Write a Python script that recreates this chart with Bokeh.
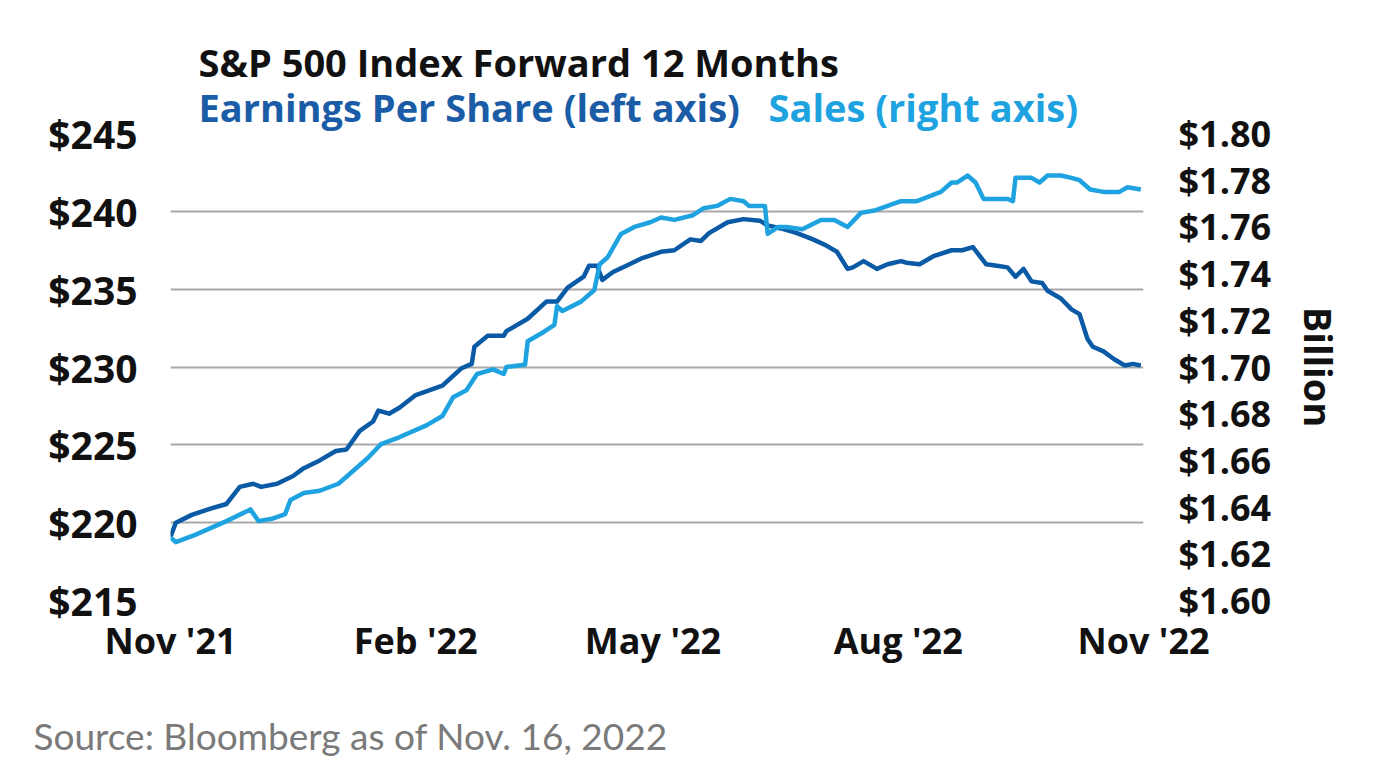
import pandas as pd
from bokeh.plotting import figure
from bokeh.models import (Range1d, LinearAxis, FixedTicker, NumeralTickFormatter,
                          DatetimeTickFormatter, Label)
from bokeh.embed import file_html
from bokeh.resources import INLINE

# ---------------- data ----------------
eps_dates = [
    "2021-11-16", "2021-11-18", "2021-11-24", "2021-12-01", "2021-12-07", "2021-12-12",
    "2021-12-17", "2021-12-20", "2021-12-26", "2022-01-01", "2022-01-05", "2022-01-11",
    "2022-01-17", "2022-01-21", "2022-01-26", "2022-01-31", "2022-02-02", "2022-02-06",
    "2022-02-10", "2022-02-16", "2022-02-26", "2022-03-05", "2022-03-09", "2022-03-10",
    "2022-03-15", "2022-03-21", "2022-03-22", "2022-03-30", "2022-04-06", "2022-04-10",
    "2022-04-14", "2022-04-20", "2022-04-22", "2022-04-25", "2022-04-27", "2022-05-01",
    "2022-05-06", "2022-05-12", "2022-05-19", "2022-05-24", "2022-05-30", "2022-06-03",
    "2022-06-06", "2022-06-13", "2022-06-19", "2022-06-25", "2022-06-28", "2022-07-03",
    "2022-07-09", "2022-07-15", "2022-07-20", "2022-07-24", "2022-07-28", "2022-07-30",
    "2022-08-03", "2022-08-08", "2022-08-12", "2022-08-17", "2022-08-19", "2022-08-24",
    "2022-08-29", "2022-09-05", "2022-09-09", "2022-09-13", "2022-09-18", "2022-09-22",
    "2022-09-26", "2022-09-29", "2022-10-02", "2022-10-05", "2022-10-09", "2022-10-11",
    "2022-10-16", "2022-10-20", "2022-10-23", "2022-10-26", "2022-10-28", "2022-11-01",
    "2022-11-05", "2022-11-09", "2022-11-12", "2022-11-15",
]
eps_values = [
    219.1, 220.0, 220.5, 220.9, 221.2, 222.3,
    222.5, 222.3, 222.5, 223.0, 223.5, 224.0,
    224.6, 224.7, 225.9, 226.5, 227.2, 227.0,
    227.4, 228.2, 228.8, 229.9, 230.2, 231.3,
    232.0, 232.0, 232.3, 233.1, 234.2, 234.2,
    235.1, 235.8, 236.5, 236.5, 235.6, 236.1,
    236.5, 237.0, 237.4, 237.5, 238.2, 238.1,
    238.6, 239.3, 239.5, 239.4, 239.1, 238.9,
    238.6, 238.2, 237.8, 237.4, 236.3, 236.4,
    236.8, 236.3, 236.6, 236.8, 236.7, 236.6,
    237.1, 237.5, 237.5, 237.7, 236.6, 236.5,
    236.4, 235.8, 236.3, 235.5, 235.4, 234.9,
    234.4, 233.7, 233.4, 231.8, 231.3, 231.0,
    230.5, 230.1, 230.2, 230.1,
]

sales_dates = [
    "2021-11-16", "2021-11-18", "2021-11-25", "2021-12-01", "2021-12-07", "2021-12-16",
    "2021-12-19", "2021-12-24", "2021-12-29", "2021-12-31", "2022-01-05", "2022-01-11",
    "2022-01-18", "2022-01-24", "2022-01-29", "2022-02-03", "2022-02-10", "2022-02-20",
    "2022-02-26", "2022-03-02", "2022-03-07", "2022-03-11", "2022-03-17", "2022-03-21",
    "2022-03-22", "2022-03-29", "2022-03-30", "2022-04-05", "2022-04-09", "2022-04-10",
    "2022-04-12", "2022-04-19", "2022-04-24", "2022-04-26", "2022-04-29", "2022-05-04",
    "2022-05-09", "2022-05-15", "2022-05-19", "2022-05-24", "2022-05-31", "2022-06-04",
    "2022-06-09", "2022-06-14", "2022-06-19", "2022-06-21", "2022-06-27", "2022-06-28",
    "2022-07-02", "2022-07-05", "2022-07-11", "2022-07-18", "2022-07-23", "2022-07-28",
    "2022-08-02", "2022-08-07", "2022-08-12", "2022-08-17", "2022-08-23", "2022-09-01",
    "2022-09-05", "2022-09-07", "2022-09-11", "2022-09-14", "2022-09-17", "2022-09-26",
    "2022-09-28", "2022-09-29", "2022-10-05", "2022-10-08", "2022-10-11", "2022-10-16",
    "2022-10-20", "2022-10-23", "2022-10-27", "2022-11-01", "2022-11-07", "2022-11-10",
    "2022-11-15",
]
sales_values = [
    1.627, 1.625, 1.628, 1.631, 1.634, 1.639,
    1.634, 1.635, 1.637, 1.643, 1.646, 1.647,
    1.650, 1.656, 1.661, 1.667, 1.670, 1.675,
    1.679, 1.687, 1.690, 1.697, 1.699, 1.697,
    1.700, 1.701, 1.711, 1.715, 1.718, 1.726,
    1.724, 1.728, 1.733, 1.744, 1.747, 1.757,
    1.760, 1.762, 1.764, 1.763, 1.765, 1.768,
    1.769, 1.772, 1.771, 1.769, 1.769, 1.757,
    1.760, 1.760, 1.759, 1.763, 1.763, 1.760,
    1.766, 1.767, 1.769, 1.771, 1.771, 1.775,
    1.779, 1.779, 1.782, 1.779, 1.772, 1.772,
    1.771, 1.781, 1.781, 1.779, 1.782, 1.782,
    1.781, 1.780, 1.776, 1.775, 1.775, 1.777,
    1.776,
]

x_tick_dates = ["2021-11-16", "2022-02-16", "2022-05-16", "2022-08-16", "2022-11-16"]
left_ticks = [215, 220, 225, 230, 235, 240, 245]
right_ticks = [1.60, 1.62, 1.64, 1.66, 1.68, 1.70, 1.72, 1.74, 1.76, 1.78, 1.80]

title_text = "S&P 500 Index Forward 12 Months"
eps_label = "Earnings Per Share (left axis)"
sales_label = "Sales (right axis)"
axis_unit = "Billion"
source_text = "Source: Bloomberg as of Nov. 16, 2022"

# ---------------- styling ----------------
DARK = "#0B5AA6"
LIGHT = "#1FA3E0"
GRID = "#a8a8a8"
FONT = "Open Sans"

eps_x = pd.to_datetime(eps_dates)
sales_x = pd.to_datetime(sales_dates)
tick_ms = [int(pd.Timestamp(d).value // 10**6) for d in x_tick_dates]

p = figure(width=1372, height=764, x_axis_type="datetime",
           output_backend="svg", toolbar_location=None, title_location=None,
           x_range=Range1d(pd.Timestamp(x_tick_dates[0]), pd.Timestamp(x_tick_dates[-1])),
           y_range=Range1d(left_ticks[0], left_ticks[-1]),
           min_border_left=170, min_border_right=229,
           min_border_top=133, min_border_bottom=160)
p.outline_line_color = None
p.background_fill_color = "white"
p.border_fill_color = "white"

p.extra_y_ranges = {"sales": Range1d(right_ticks[0], right_ticks[-1])}

# x axis
xa = p.xaxis[0]
xa.ticker = FixedTicker(ticks=tick_ms)
fmt = "%b '%y"
xa.formatter = DatetimeTickFormatter(days=fmt, months=fmt, years=fmt, hours=fmt)
xa.axis_line_color = None
xa.major_tick_line_color = None
xa.major_tick_out = 0
xa.minor_tick_line_color = None
xa.minor_tick_out = 0
xa.major_label_standoff = 15
xa.major_label_text_font = FONT
xa.major_label_text_font_style = "bold"
xa.major_label_text_font_size = "36px"
xa.major_label_text_color = "#111111"

# left axis
ya = p.yaxis[0]
ya.ticker = FixedTicker(ticks=left_ticks)
ya.formatter = NumeralTickFormatter(format="$0")
ya.axis_line_color = None
ya.major_tick_line_color = None
ya.major_tick_out = 0
ya.minor_tick_line_color = None
ya.minor_tick_out = 0
ya.major_label_standoff = 33
ya.major_label_text_font = FONT
ya.major_label_text_font_style = "bold"
ya.major_label_text_font_size = "39px"
ya.major_label_text_color = "#111111"

# right axis
ra = LinearAxis(y_range_name="sales", ticker=FixedTicker(ticks=right_ticks),
                formatter=NumeralTickFormatter(format="$0.00"),
                axis_label=axis_unit)
ra.axis_line_color = None
ra.major_tick_line_color = None
ra.major_tick_out = 0
ra.minor_tick_line_color = None
ra.minor_tick_out = 0
ra.major_label_standoff = 35
ra.major_label_text_font = FONT
ra.major_label_text_font_style = "bold"
ra.major_label_text_font_size = "36px"
ra.major_label_text_color = "#111111"
ra.axis_label_text_font = FONT
ra.axis_label_text_font_style = "bold"
ra.axis_label_text_font_size = "38px"
ra.axis_label_text_color = "#111111"
ra.axis_label_standoff = 19
p.add_layout(ra, "right")

# grid
p.xgrid.visible = False
p.ygrid.ticker = FixedTicker(ticks=left_ticks)
p.ygrid.grid_line_color = GRID
p.ygrid.grid_line_width = 2

# lines
p.line(eps_x, eps_values, line_color=DARK, line_width=4.5, line_join="round")
p.line(sales_x, sales_values, line_color=LIGHT, line_width=4.5, line_join="round",
       y_range_name="sales")

# texts (placed in side panels so that they are not clipped by the frame)
p.add_layout(Label(x=28, y=27, x_units="screen", y_units="screen", text=eps_label,
                   text_font=FONT, text_font_style="bold", text_font_size="38px",
                   text_color="#1A5DA6", text_baseline="alphabetic"), "above")
p.add_layout(Label(x=28, y=20, x_units="screen", y_units="screen", text=title_text,
                   text_font=FONT, text_font_style="bold", text_font_size="38px",
                   text_color="#111111", text_baseline="alphabetic"), "above")
p.add_layout(Label(x=-137, y=-23, x_units="screen", y_units="screen", text=source_text,
                   text_font="Lato", text_font_size="37px",
                   text_color="#7a7a7a", text_baseline="alphabetic"), "below")
p.add_layout(Label(x=598, y=658, x_units="screen", y_units="screen", text=sales_label,
                   text_font=FONT, text_font_style="bold", text_font_size="38px",
                   text_color=LIGHT, text_baseline="alphabetic"), "below")

open("out.html", "w").write(file_html(p, INLINE))
